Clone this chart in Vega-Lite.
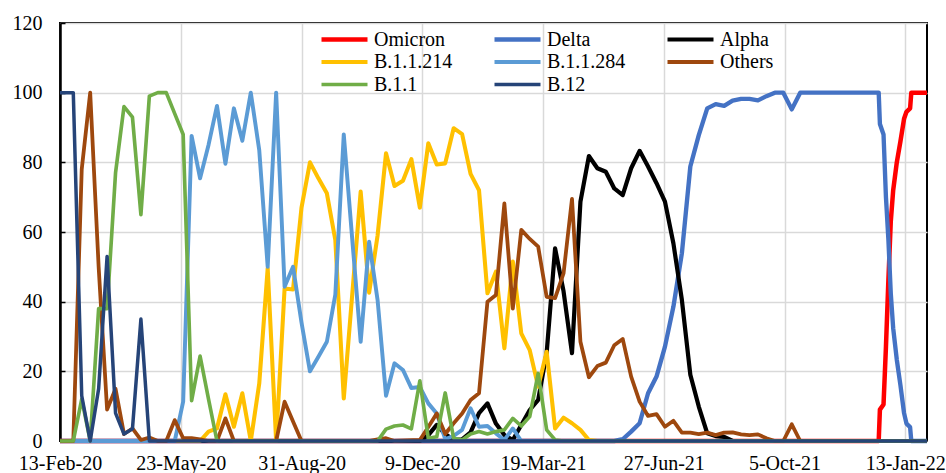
{
  "$schema": "https://vega.github.io/schema/vega-lite/v6.json",
  "width": 867,
  "height": 418,
  "autosize": {"type": "none"},
  "padding": {"left": 60, "top": 23, "right": 19, "bottom": 32},
  "background": "white",
  "config": {
    "font": "Liberation Serif",
    "view": {"stroke": "black", "strokeWidth": 2},
    "legend": {
      "orient": "none",
      "legendX": 259,
      "legendY": 6.5,
      "direction": "horizontal",
      "columns": 3,
      "columnPadding": 39,
      "rowPadding": 2.5,
      "symbolType": "stroke",
      "symbolSize": 2116,
      "clipHeight": 20,
      "labelFont": "Liberation Serif",
      "labelFontSize": 20,
      "labelColor": "black",
      "labelOffset": 4,
      "labelLimit": 0,
      "padding": 0,
      "title": null
    }
  },
  "data": {
    "values": [
      {"date": "2020-02-13", "variant": "Omicron", "share": 0},
      {"date": "2021-12-22", "variant": "Omicron", "share": 0},
      {"date": "2021-12-23", "variant": "Omicron", "share": 9},
      {"date": "2021-12-26", "variant": "Omicron", "share": 10.5},
      {"date": "2021-12-28", "variant": "Omicron", "share": 27},
      {"date": "2021-12-30", "variant": "Omicron", "share": 46},
      {"date": "2022-01-01", "variant": "Omicron", "share": 63},
      {"date": "2022-01-03", "variant": "Omicron", "share": 72},
      {"date": "2022-01-06", "variant": "Omicron", "share": 80},
      {"date": "2022-01-09", "variant": "Omicron", "share": 86},
      {"date": "2022-01-12", "variant": "Omicron", "share": 92.5},
      {"date": "2022-01-14", "variant": "Omicron", "share": 94.5},
      {"date": "2022-01-17", "variant": "Omicron", "share": 95.5},
      {"date": "2022-01-18", "variant": "Omicron", "share": 100},
      {"date": "2022-01-31", "variant": "Omicron", "share": 100},

      {"date": "2020-02-13", "variant": "Delta", "share": 0},
      {"date": "2021-05-17", "variant": "Delta", "share": 0},
      {"date": "2021-05-24", "variant": "Delta", "share": 0.5},
      {"date": "2021-05-31", "variant": "Delta", "share": 2.7},
      {"date": "2021-06-07", "variant": "Delta", "share": 5.1},
      {"date": "2021-06-14", "variant": "Delta", "share": 13.7},
      {"date": "2021-06-21", "variant": "Delta", "share": 18.5},
      {"date": "2021-06-28", "variant": "Delta", "share": 27.1},
      {"date": "2021-07-05", "variant": "Delta", "share": 38.6},
      {"date": "2021-07-12", "variant": "Delta", "share": 53.9},
      {"date": "2021-07-19", "variant": "Delta", "share": 78.8},
      {"date": "2021-07-26", "variant": "Delta", "share": 87.8},
      {"date": "2021-08-02", "variant": "Delta", "share": 95.5},
      {"date": "2021-08-09", "variant": "Delta", "share": 96.7},
      {"date": "2021-08-16", "variant": "Delta", "share": 96.2},
      {"date": "2021-08-23", "variant": "Delta", "share": 97.7},
      {"date": "2021-08-30", "variant": "Delta", "share": 98.2},
      {"date": "2021-09-06", "variant": "Delta", "share": 98.2},
      {"date": "2021-09-13", "variant": "Delta", "share": 97.8},
      {"date": "2021-09-20", "variant": "Delta", "share": 99},
      {"date": "2021-09-27", "variant": "Delta", "share": 100},
      {"date": "2021-10-04", "variant": "Delta", "share": 100},
      {"date": "2021-10-11", "variant": "Delta", "share": 95.2},
      {"date": "2021-10-18", "variant": "Delta", "share": 100},
      {"date": "2021-12-22", "variant": "Delta", "share": 100},
      {"date": "2021-12-23", "variant": "Delta", "share": 91},
      {"date": "2021-12-26", "variant": "Delta", "share": 88},
      {"date": "2021-12-28", "variant": "Delta", "share": 70},
      {"date": "2021-12-30", "variant": "Delta", "share": 58},
      {"date": "2022-01-01", "variant": "Delta", "share": 42.4},
      {"date": "2022-01-03", "variant": "Delta", "share": 32.4},
      {"date": "2022-01-06", "variant": "Delta", "share": 23.3},
      {"date": "2022-01-09", "variant": "Delta", "share": 16},
      {"date": "2022-01-12", "variant": "Delta", "share": 8},
      {"date": "2022-01-14", "variant": "Delta", "share": 5},
      {"date": "2022-01-17", "variant": "Delta", "share": 4},
      {"date": "2022-01-18", "variant": "Delta", "share": 0},
      {"date": "2022-01-31", "variant": "Delta", "share": 0},

      {"date": "2020-02-13", "variant": "Alpha", "share": 0},
      {"date": "2020-12-07", "variant": "Alpha", "share": 0},
      {"date": "2020-12-14", "variant": "Alpha", "share": 1.7},
      {"date": "2020-12-21", "variant": "Alpha", "share": 4.6},
      {"date": "2020-12-28", "variant": "Alpha", "share": 2},
      {"date": "2021-01-04", "variant": "Alpha", "share": 0.3},
      {"date": "2021-01-11", "variant": "Alpha", "share": 0.5},
      {"date": "2021-01-18", "variant": "Alpha", "share": 2.5},
      {"date": "2021-01-25", "variant": "Alpha", "share": 8},
      {"date": "2021-02-01", "variant": "Alpha", "share": 10.8},
      {"date": "2021-02-08", "variant": "Alpha", "share": 5},
      {"date": "2021-02-15", "variant": "Alpha", "share": 1.7},
      {"date": "2021-02-22", "variant": "Alpha", "share": 0.3},
      {"date": "2021-03-01", "variant": "Alpha", "share": 4.6},
      {"date": "2021-03-08", "variant": "Alpha", "share": 8.9},
      {"date": "2021-03-15", "variant": "Alpha", "share": 11.8},
      {"date": "2021-03-22", "variant": "Alpha", "share": 25.2},
      {"date": "2021-03-29", "variant": "Alpha", "share": 55.3},
      {"date": "2021-04-05", "variant": "Alpha", "share": 43},
      {"date": "2021-04-12", "variant": "Alpha", "share": 25.2},
      {"date": "2021-04-19", "variant": "Alpha", "share": 68.7},
      {"date": "2021-04-26", "variant": "Alpha", "share": 81.8},
      {"date": "2021-05-03", "variant": "Alpha", "share": 78.3},
      {"date": "2021-05-10", "variant": "Alpha", "share": 77.3},
      {"date": "2021-05-17", "variant": "Alpha", "share": 72.5},
      {"date": "2021-05-24", "variant": "Alpha", "share": 70.6},
      {"date": "2021-05-31", "variant": "Alpha", "share": 78.3},
      {"date": "2021-06-07", "variant": "Alpha", "share": 83.3},
      {"date": "2021-06-14", "variant": "Alpha", "share": 78.8},
      {"date": "2021-06-21", "variant": "Alpha", "share": 74},
      {"date": "2021-06-28", "variant": "Alpha", "share": 68.7},
      {"date": "2021-07-05", "variant": "Alpha", "share": 56.7},
      {"date": "2021-07-12", "variant": "Alpha", "share": 40.5},
      {"date": "2021-07-19", "variant": "Alpha", "share": 19},
      {"date": "2021-07-26", "variant": "Alpha", "share": 9.9},
      {"date": "2021-08-02", "variant": "Alpha", "share": 2.2},
      {"date": "2021-08-09", "variant": "Alpha", "share": 1.4},
      {"date": "2021-08-16", "variant": "Alpha", "share": 1.2},
      {"date": "2021-08-23", "variant": "Alpha", "share": 0},
      {"date": "2022-01-31", "variant": "Alpha", "share": 0},

      {"date": "2020-02-13", "variant": "B.1.1.214", "share": 0},
      {"date": "2020-06-08", "variant": "B.1.1.214", "share": 0},
      {"date": "2020-06-15", "variant": "B.1.1.214", "share": 2.7},
      {"date": "2020-06-22", "variant": "B.1.1.214", "share": 3.6},
      {"date": "2020-06-29", "variant": "B.1.1.214", "share": 13.4},
      {"date": "2020-07-06", "variant": "B.1.1.214", "share": 4.1},
      {"date": "2020-07-13", "variant": "B.1.1.214", "share": 13.7},
      {"date": "2020-07-20", "variant": "B.1.1.214", "share": 0},
      {"date": "2020-07-27", "variant": "B.1.1.214", "share": 16.5},
      {"date": "2020-08-03", "variant": "B.1.1.214", "share": 49.6},
      {"date": "2020-08-10", "variant": "B.1.1.214", "share": 0},
      {"date": "2020-08-17", "variant": "B.1.1.214", "share": 43.8},
      {"date": "2020-08-24", "variant": "B.1.1.214", "share": 43.5},
      {"date": "2020-08-31", "variant": "B.1.1.214", "share": 67},
      {"date": "2020-09-07", "variant": "B.1.1.214", "share": 80},
      {"date": "2020-09-14", "variant": "B.1.1.214", "share": 75.4},
      {"date": "2020-09-21", "variant": "B.1.1.214", "share": 71.1},
      {"date": "2020-09-28", "variant": "B.1.1.214", "share": 57.7},
      {"date": "2020-10-05", "variant": "B.1.1.214", "share": 12.2},
      {"date": "2020-10-12", "variant": "B.1.1.214", "share": 42},
      {"date": "2020-10-19", "variant": "B.1.1.214", "share": 71.6},
      {"date": "2020-10-26", "variant": "B.1.1.214", "share": 42.6},
      {"date": "2020-11-02", "variant": "B.1.1.214", "share": 59},
      {"date": "2020-11-09", "variant": "B.1.1.214", "share": 82.6},
      {"date": "2020-11-16", "variant": "B.1.1.214", "share": 73.2},
      {"date": "2020-11-23", "variant": "B.1.1.214", "share": 74.7},
      {"date": "2020-11-30", "variant": "B.1.1.214", "share": 80.9},
      {"date": "2020-12-07", "variant": "B.1.1.214", "share": 67},
      {"date": "2020-12-14", "variant": "B.1.1.214", "share": 85.5},
      {"date": "2020-12-21", "variant": "B.1.1.214", "share": 79.4},
      {"date": "2020-12-28", "variant": "B.1.1.214", "share": 79.7},
      {"date": "2021-01-04", "variant": "B.1.1.214", "share": 89.8},
      {"date": "2021-01-11", "variant": "B.1.1.214", "share": 88.1},
      {"date": "2021-01-18", "variant": "B.1.1.214", "share": 76.7},
      {"date": "2021-01-25", "variant": "B.1.1.214", "share": 72},
      {"date": "2021-02-01", "variant": "B.1.1.214", "share": 42.4},
      {"date": "2021-02-08", "variant": "B.1.1.214", "share": 48.6},
      {"date": "2021-02-15", "variant": "B.1.1.214", "share": 26.6},
      {"date": "2021-02-22", "variant": "B.1.1.214", "share": 51.5},
      {"date": "2021-03-01", "variant": "B.1.1.214", "share": 30.9},
      {"date": "2021-03-08", "variant": "B.1.1.214", "share": 26.1},
      {"date": "2021-03-15", "variant": "B.1.1.214", "share": 15.6},
      {"date": "2021-03-22", "variant": "B.1.1.214", "share": 25.6},
      {"date": "2021-03-29", "variant": "B.1.1.214", "share": 3.6},
      {"date": "2021-04-05", "variant": "B.1.1.214", "share": 6.7},
      {"date": "2021-04-12", "variant": "B.1.1.214", "share": 5.1},
      {"date": "2021-04-19", "variant": "B.1.1.214", "share": 3.2},
      {"date": "2021-04-26", "variant": "B.1.1.214", "share": 0.3},
      {"date": "2021-05-03", "variant": "B.1.1.214", "share": 0},
      {"date": "2022-01-31", "variant": "B.1.1.214", "share": 0},

      {"date": "2020-02-13", "variant": "B.1.1.284", "share": 0},
      {"date": "2020-05-18", "variant": "B.1.1.284", "share": 0},
      {"date": "2020-05-25", "variant": "B.1.1.284", "share": 11.3},
      {"date": "2020-06-01", "variant": "B.1.1.284", "share": 87.6},
      {"date": "2020-06-08", "variant": "B.1.1.284", "share": 75.4},
      {"date": "2020-06-15", "variant": "B.1.1.284", "share": 85},
      {"date": "2020-06-22", "variant": "B.1.1.284", "share": 96.2},
      {"date": "2020-06-29", "variant": "B.1.1.284", "share": 79.6},
      {"date": "2020-07-06", "variant": "B.1.1.284", "share": 95.5},
      {"date": "2020-07-13", "variant": "B.1.1.284", "share": 86.2},
      {"date": "2020-07-20", "variant": "B.1.1.284", "share": 100},
      {"date": "2020-07-27", "variant": "B.1.1.284", "share": 83.5},
      {"date": "2020-08-03", "variant": "B.1.1.284", "share": 50},
      {"date": "2020-08-10", "variant": "B.1.1.284", "share": 100},
      {"date": "2020-08-17", "variant": "B.1.1.284", "share": 44.3},
      {"date": "2020-08-24", "variant": "B.1.1.284", "share": 50},
      {"date": "2020-08-31", "variant": "B.1.1.284", "share": 34},
      {"date": "2020-09-07", "variant": "B.1.1.284", "share": 20},
      {"date": "2020-09-14", "variant": "B.1.1.284", "share": 24.2},
      {"date": "2020-09-21", "variant": "B.1.1.284", "share": 28.5},
      {"date": "2020-09-28", "variant": "B.1.1.284", "share": 42},
      {"date": "2020-10-05", "variant": "B.1.1.284", "share": 88},
      {"date": "2020-10-12", "variant": "B.1.1.284", "share": 58},
      {"date": "2020-10-19", "variant": "B.1.1.284", "share": 28.5},
      {"date": "2020-10-26", "variant": "B.1.1.284", "share": 57.2},
      {"date": "2020-11-02", "variant": "B.1.1.284", "share": 40.5},
      {"date": "2020-11-09", "variant": "B.1.1.284", "share": 13},
      {"date": "2020-11-16", "variant": "B.1.1.284", "share": 22.3},
      {"date": "2020-11-23", "variant": "B.1.1.284", "share": 20.4},
      {"date": "2020-11-30", "variant": "B.1.1.284", "share": 15.2},
      {"date": "2020-12-07", "variant": "B.1.1.284", "share": 15.5},
      {"date": "2020-12-14", "variant": "B.1.1.284", "share": 10.8},
      {"date": "2020-12-21", "variant": "B.1.1.284", "share": 7.9},
      {"date": "2020-12-28", "variant": "B.1.1.284", "share": 0.5},
      {"date": "2021-01-04", "variant": "B.1.1.284", "share": 1.5},
      {"date": "2021-01-11", "variant": "B.1.1.284", "share": 3.2},
      {"date": "2021-01-18", "variant": "B.1.1.284", "share": 9.4},
      {"date": "2021-01-25", "variant": "B.1.1.284", "share": 4.1},
      {"date": "2021-02-01", "variant": "B.1.1.284", "share": 4.3},
      {"date": "2021-02-08", "variant": "B.1.1.284", "share": 2.2},
      {"date": "2021-02-15", "variant": "B.1.1.284", "share": 0.3},
      {"date": "2021-02-22", "variant": "B.1.1.284", "share": 3.6},
      {"date": "2021-03-01", "variant": "B.1.1.284", "share": 0},
      {"date": "2022-01-31", "variant": "B.1.1.284", "share": 0},

      {"date": "2020-02-13", "variant": "Others", "share": 0},
      {"date": "2020-02-24", "variant": "Others", "share": 0},
      {"date": "2020-03-02", "variant": "Others", "share": 78},
      {"date": "2020-03-09", "variant": "Others", "share": 100},
      {"date": "2020-03-16", "variant": "Others", "share": 50},
      {"date": "2020-03-23", "variant": "Others", "share": 9},
      {"date": "2020-03-30", "variant": "Others", "share": 15},
      {"date": "2020-04-06", "variant": "Others", "share": 2},
      {"date": "2020-04-13", "variant": "Others", "share": 3.6},
      {"date": "2020-04-20", "variant": "Others", "share": 0.3},
      {"date": "2020-04-27", "variant": "Others", "share": 1},
      {"date": "2020-05-04", "variant": "Others", "share": 0},
      {"date": "2020-05-11", "variant": "Others", "share": 0},
      {"date": "2020-05-18", "variant": "Others", "share": 6},
      {"date": "2020-05-25", "variant": "Others", "share": 0.8},
      {"date": "2020-06-01", "variant": "Others", "share": 0.8},
      {"date": "2020-06-08", "variant": "Others", "share": 0.5},
      {"date": "2020-06-15", "variant": "Others", "share": 0},
      {"date": "2020-06-22", "variant": "Others", "share": 0},
      {"date": "2020-06-29", "variant": "Others", "share": 6.5},
      {"date": "2020-07-06", "variant": "Others", "share": 0},
      {"date": "2020-08-10", "variant": "Others", "share": 0},
      {"date": "2020-08-17", "variant": "Others", "share": 11.3},
      {"date": "2020-08-24", "variant": "Others", "share": 5.6},
      {"date": "2020-08-31", "variant": "Others", "share": 0},
      {"date": "2020-10-26", "variant": "Others", "share": 0},
      {"date": "2020-11-02", "variant": "Others", "share": 0.5},
      {"date": "2020-11-09", "variant": "Others", "share": 0.8},
      {"date": "2020-11-16", "variant": "Others", "share": 0},
      {"date": "2020-12-07", "variant": "Others", "share": 0.3},
      {"date": "2020-12-14", "variant": "Others", "share": 4},
      {"date": "2020-12-21", "variant": "Others", "share": 7.9},
      {"date": "2020-12-28", "variant": "Others", "share": 2},
      {"date": "2021-01-04", "variant": "Others", "share": 5.1},
      {"date": "2021-01-11", "variant": "Others", "share": 7.9},
      {"date": "2021-01-18", "variant": "Others", "share": 11.8},
      {"date": "2021-01-25", "variant": "Others", "share": 13.7},
      {"date": "2021-02-01", "variant": "Others", "share": 40},
      {"date": "2021-02-08", "variant": "Others", "share": 41.9},
      {"date": "2021-02-15", "variant": "Others", "share": 68.2},
      {"date": "2021-02-22", "variant": "Others", "share": 38},
      {"date": "2021-03-01", "variant": "Others", "share": 60.6},
      {"date": "2021-03-08", "variant": "Others", "share": 58},
      {"date": "2021-03-15", "variant": "Others", "share": 55.8},
      {"date": "2021-03-22", "variant": "Others", "share": 41.4},
      {"date": "2021-03-29", "variant": "Others", "share": 41},
      {"date": "2021-04-05", "variant": "Others", "share": 48.1},
      {"date": "2021-04-12", "variant": "Others", "share": 69.5},
      {"date": "2021-04-19", "variant": "Others", "share": 28.5},
      {"date": "2021-04-26", "variant": "Others", "share": 18.3},
      {"date": "2021-05-03", "variant": "Others", "share": 21.5},
      {"date": "2021-05-10", "variant": "Others", "share": 22.5},
      {"date": "2021-05-17", "variant": "Others", "share": 27.5},
      {"date": "2021-05-24", "variant": "Others", "share": 29.3},
      {"date": "2021-05-31", "variant": "Others", "share": 18.5},
      {"date": "2021-06-07", "variant": "Others", "share": 11.3},
      {"date": "2021-06-14", "variant": "Others", "share": 7.2},
      {"date": "2021-06-21", "variant": "Others", "share": 7.7},
      {"date": "2021-06-28", "variant": "Others", "share": 4.1},
      {"date": "2021-07-05", "variant": "Others", "share": 5.8},
      {"date": "2021-07-12", "variant": "Others", "share": 2.4},
      {"date": "2021-07-19", "variant": "Others", "share": 2.4},
      {"date": "2021-07-26", "variant": "Others", "share": 2},
      {"date": "2021-08-02", "variant": "Others", "share": 2.4},
      {"date": "2021-08-09", "variant": "Others", "share": 1.7},
      {"date": "2021-08-16", "variant": "Others", "share": 2.4},
      {"date": "2021-08-23", "variant": "Others", "share": 2.5},
      {"date": "2021-08-30", "variant": "Others", "share": 1.9},
      {"date": "2021-09-06", "variant": "Others", "share": 1.7},
      {"date": "2021-09-13", "variant": "Others", "share": 1.9},
      {"date": "2021-09-20", "variant": "Others", "share": 0.8},
      {"date": "2021-09-27", "variant": "Others", "share": 0},
      {"date": "2021-10-04", "variant": "Others", "share": 0},
      {"date": "2021-10-11", "variant": "Others", "share": 4.8},
      {"date": "2021-10-18", "variant": "Others", "share": 0},
      {"date": "2022-01-31", "variant": "Others", "share": 0},

      {"date": "2020-02-13", "variant": "B.1.1", "share": 0},
      {"date": "2020-02-24", "variant": "B.1.1", "share": 0},
      {"date": "2020-03-02", "variant": "B.1.1", "share": 12},
      {"date": "2020-03-09", "variant": "B.1.1", "share": 0},
      {"date": "2020-03-16", "variant": "B.1.1", "share": 38},
      {"date": "2020-03-23", "variant": "B.1.1", "share": 38},
      {"date": "2020-03-30", "variant": "B.1.1", "share": 77},
      {"date": "2020-04-06", "variant": "B.1.1", "share": 96},
      {"date": "2020-04-13", "variant": "B.1.1", "share": 93},
      {"date": "2020-04-20", "variant": "B.1.1", "share": 65},
      {"date": "2020-04-27", "variant": "B.1.1", "share": 99},
      {"date": "2020-05-04", "variant": "B.1.1", "share": 100},
      {"date": "2020-05-11", "variant": "B.1.1", "share": 100},
      {"date": "2020-05-18", "variant": "B.1.1", "share": 94},
      {"date": "2020-05-25", "variant": "B.1.1", "share": 88},
      {"date": "2020-06-01", "variant": "B.1.1", "share": 11.6},
      {"date": "2020-06-08", "variant": "B.1.1", "share": 24.4},
      {"date": "2020-06-15", "variant": "B.1.1", "share": 12},
      {"date": "2020-06-22", "variant": "B.1.1", "share": 0},
      {"date": "2020-11-02", "variant": "B.1.1", "share": 0},
      {"date": "2020-11-09", "variant": "B.1.1", "share": 3.4},
      {"date": "2020-11-16", "variant": "B.1.1", "share": 4.3},
      {"date": "2020-11-23", "variant": "B.1.1", "share": 4.6},
      {"date": "2020-11-30", "variant": "B.1.1", "share": 3.5},
      {"date": "2020-12-07", "variant": "B.1.1", "share": 17.3},
      {"date": "2020-12-14", "variant": "B.1.1", "share": 0.8},
      {"date": "2020-12-21", "variant": "B.1.1", "share": 1.2},
      {"date": "2020-12-28", "variant": "B.1.1", "share": 13.8},
      {"date": "2021-01-04", "variant": "B.1.1", "share": 0.8},
      {"date": "2021-01-11", "variant": "B.1.1", "share": 0.3},
      {"date": "2021-01-18", "variant": "B.1.1", "share": 2},
      {"date": "2021-01-25", "variant": "B.1.1", "share": 2.7},
      {"date": "2021-02-01", "variant": "B.1.1", "share": 2},
      {"date": "2021-02-08", "variant": "B.1.1", "share": 2.7},
      {"date": "2021-02-15", "variant": "B.1.1", "share": 3.2},
      {"date": "2021-02-22", "variant": "B.1.1", "share": 6.5},
      {"date": "2021-03-01", "variant": "B.1.1", "share": 4.3},
      {"date": "2021-03-08", "variant": "B.1.1", "share": 7},
      {"date": "2021-03-15", "variant": "B.1.1", "share": 19.4},
      {"date": "2021-03-22", "variant": "B.1.1", "share": 3.2},
      {"date": "2021-03-29", "variant": "B.1.1", "share": 0.3},
      {"date": "2021-04-05", "variant": "B.1.1", "share": 0},
      {"date": "2022-01-31", "variant": "B.1.1", "share": 0},

      {"date": "2020-02-13", "variant": "B.12", "share": 100},
      {"date": "2020-02-24", "variant": "B.12", "share": 100},
      {"date": "2020-03-02", "variant": "B.12", "share": 13},
      {"date": "2020-03-09", "variant": "B.12", "share": 0},
      {"date": "2020-03-16", "variant": "B.12", "share": 15},
      {"date": "2020-03-23", "variant": "B.12", "share": 53},
      {"date": "2020-03-30", "variant": "B.12", "share": 8},
      {"date": "2020-04-06", "variant": "B.12", "share": 2},
      {"date": "2020-04-13", "variant": "B.12", "share": 3.5},
      {"date": "2020-04-20", "variant": "B.12", "share": 35},
      {"date": "2020-04-27", "variant": "B.12", "share": 0},
      {"date": "2022-01-31", "variant": "B.12", "share": 0}
    ]
  },
  "mark": {"type": "line", "strokeJoin": "round", "strokeCap": "butt"},
  "encoding": {
    "x": {
      "field": "date",
      "type": "temporal",
      "scale": {
        "type": "utc",
        "domain": [
          {"year": 2020, "month": 2, "date": 13, "utc": true},
          {"year": 2022, "month": 1, "date": 31, "utc": true}
        ]
      },
      "axis": {
        "title": null,
        "values": [
          {"year": 2020, "month": 2, "date": 13, "utc": true},
          {"year": 2020, "month": 5, "date": 23, "utc": true},
          {"year": 2020, "month": 8, "date": 31, "utc": true},
          {"year": 2020, "month": 12, "date": 9, "utc": true},
          {"year": 2021, "month": 3, "date": 19, "utc": true},
          {"year": 2021, "month": 6, "date": 27, "utc": true},
          {"year": 2021, "month": 10, "date": 5, "utc": true},
          {"year": 2022, "month": 1, "date": 13, "utc": true}
        ],
        "format": "%-d-%b-%y",
        "labelFont": "Liberation Serif",
        "labelFontSize": 20,
        "labelColor": "black",
        "labelPadding": 12,
        "labelFlush": false,
        "labelBound": false,
        "labelOverlap": false,
        "ticks": false,
        "tickSize": 0,
        "domain": false,
        "grid": true,
        "gridColor": "#D9D9D9",
        "gridWidth": 1.5
      }
    },
    "y": {
      "field": "share",
      "type": "quantitative",
      "scale": {"domain": [0, 120], "nice": false, "zero": true},
      "axis": {
        "title": null,
        "values": [0, 20, 40, 60, 80, 100, 120],
        "labelFont": "Liberation Serif",
        "labelFontSize": 20,
        "labelColor": "black",
        "labelPadding": 23,
        "ticks": true,
        "tickSize": -5,
        "tickColor": "black",
        "tickWidth": 1.5,
        "domain": true,
        "domainColor": "black",
        "domainWidth": 2.5,
        "grid": true,
        "gridColor": "#D9D9D9",
        "gridWidth": 1.5
      }
    },
    "color": {
      "field": "variant",
      "type": "nominal",
      "scale": {
        "domain": ["Omicron", "Delta", "Alpha", "B.1.1.214", "B.1.1.284", "Others", "B.1.1", "B.12"],
        "range": ["#FF0000", "#4472C4", "#000000", "#FFC000", "#5B9BD5", "#9E480E", "#70AD47", "#264478"]
      }
    },
    "strokeWidth": {
      "field": "variant",
      "type": "nominal",
      "scale": {
        "domain": ["Omicron", "Delta", "Alpha", "B.1.1.214", "B.1.1.284", "Others", "B.1.1", "B.12"],
        "range": [4.5, 3.5, 2.6, 2.2, 2.2, 2.2, 2.2, 2.2]
      }
    }
  }
}
